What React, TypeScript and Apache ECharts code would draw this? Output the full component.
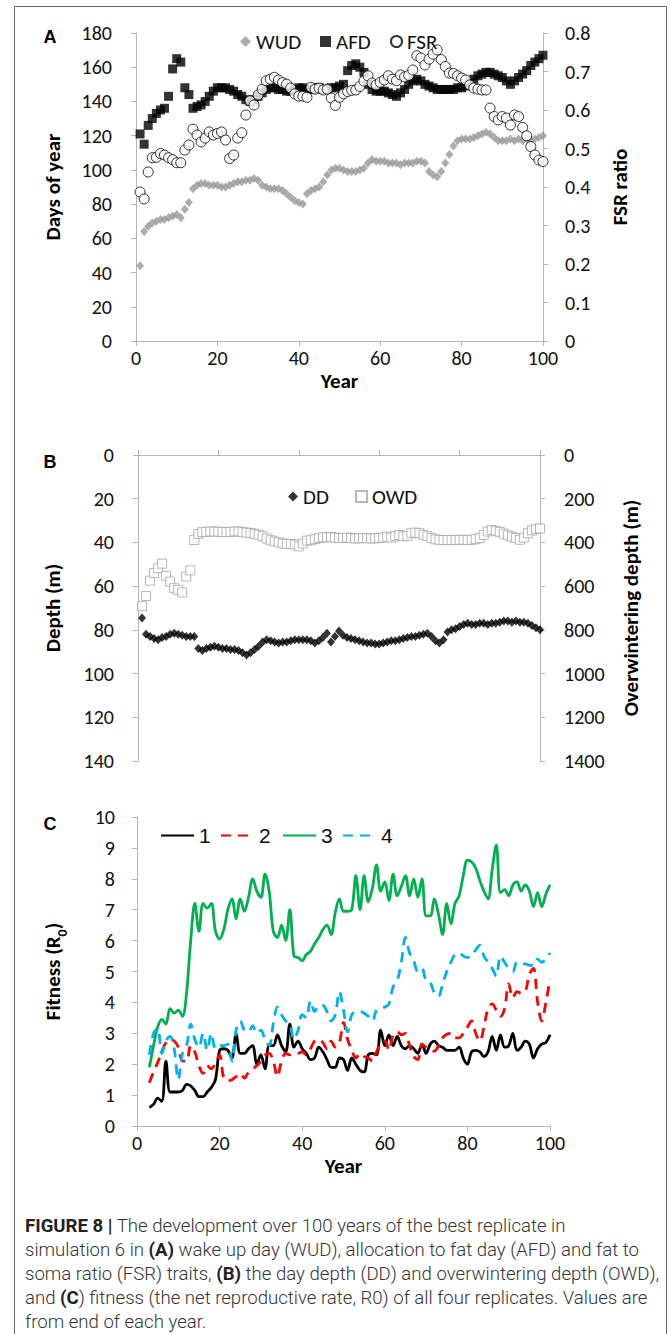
import React, { useEffect, useRef } from "react";
import * as echarts from "echarts";

// ---------- Panel A (years 1..100) ----------
const WUD = [44,64,67,69,70,71,71,72,73,74, 72,77,81,89,91,92,92,91,91,91, 90,90,91,92,93,93,94,94,95,94, 91,90,89,89,89,88,86,84,82,81, 80,86,88,89,90,93,97,100,101,101, 100,99,99,99,100,101,104,106,105,105, 105,104,104,104,103,104,104,104,105,105, 104,99,97,96,99,104,109,114,117,118, 118,118,119,120,121,122,121,119,117,117, 117,118,117,118,117,118,117,118,119,120];
const AFD = [121,115,126,130,133,135,136,143,159,165, 163,148,144,136,137,138,140,143,146,148, 148,148,147,146,144,143,141,140,141,143, 145,147,148,148,147,147,146,146,147,148, 148,147,147,148,148,147,147,148,148,149, 150,158,161,162,160,157,150,147,146,146, 146,145,144,143,145,147,150,152,153,152, 150,149,148,147,147,147,147,147,148,148, 149,151,153,155,156,157,157,156,155,154, 152,150,152,154,156,158,161,163,165,167];
const FSR = [0.387,0.369,0.439,0.476,0.477,0.487,0.483,0.476,0.471,0.463, 0.463,0.496,0.509,0.55,0.535,0.517,0.527,0.543,0.535,0.539, 0.543,0.522,0.474,0.483,0.527,0.541,0.587,0.624,0.613,0.639, 0.654,0.676,0.68,0.685,0.678,0.671,0.667,0.657,0.642,0.636, 0.636,0.633,0.659,0.654,0.657,0.652,0.654,0.631,0.612,0.633, 0.642,0.648,0.651,0.652,0.661,0.675,0.689,0.67,0.665,0.672, 0.678,0.689,0.68,0.676,0.691,0.686,0.69,0.704,0.741,0.735, 0.717,0.732,0.745,0.756,0.731,0.713,0.696,0.695,0.689,0.683, 0.678,0.665,0.657,0.654,0.652,0.652,0.605,0.583,0.574,0.583, 0.579,0.561,0.587,0.583,0.555,0.533,0.505,0.483,0.47,0.466];

// ---------- Panel B (years 1..100) ----------
const DD = [74.6,82,83,84,84.5,83.5,83,82,81.5,82, 82.5,83,83,83,88.5,89.5,88.5,88,87.5,88, 88.5,88.5,89,89,89.5,90.5,91.5,90.5,89,87.5, 85.5,84.5,85,85.5,86,85.5,85.5,85,84.5,84.5, 84.5,84.5,85,86,85,83.5,81.5,85.5,83,80.5, 82.5,83.5,84,84.5,85,85.5,86,86,86.5,86.5, 86,85.5,85,85,84.5,84,83.5,83,83,82.5, 82,81.5,83,85,86,84.5,81,80,79.5,78.5, 77.5,77,77.5,77.5,77,77,77.5,77,77,76.5, 76,76,76.5,76,76.5,76.5,77,78,79,80];
const OWD = [692,645,575,540,518,497,553,579,609,617, 629,556,528,389,361,353,352,350,350,351, 352,353,352,350,350,353,355,357,360,365, 372,382,390,396,400,405,407,407,410,418, 405,392,390,385,380,377,376,376,378,380, 380,378,380,382,381,380,381,382,381,380, 378,374,378,372,366,372,370,358,355,358, 365,372,380,386,388,389,389,389,389,388, 388,389,388,385,380,366,350,343,347,352, 360,368,374,380,388,378,358,345,338,336];

// ---------- Panel C (years 3..100) ----------
const FIT1 = [0.6,0.7,0.9,0.8,2.1,1.1,1.1,1.1,1.15,1.35, 1.3,1.15,0.95,0.95,1.1,1.25,1.5,2.45,2.5,2.45, 2.2,3.0,2.35,2.35,2.5,2.6,2.0,2.3,1.85,2.6, 2.6,2.95,2.6,2.4,3.3,2.55,2.75,2.5,2.35,2.15, 2.2,2.55,2.4,2.15,1.9,1.9,2.2,2.15,1.8,2.2, 2.0,1.8,1.75,2.3,2.35,2.3,3.1,2.6,2.95,2.6, 2.9,2.6,2.5,2.6,2.5,2.35,2.65,2.35,2.65,2.75, 2.6,2.55,2.45,2.45,2.45,2.55,2.2,2.0,2.4,2.45, 2.4,2.25,2.4,2.9,2.45,2.95,2.55,2.6,3.0,2.45, 2.55,2.75,2.65,2.2,2.5,2.65,2.7,2.95];
const FIT2 = [1.4,1.75,2.05,2.4,2.7,2.8,2.75,2.55,2.1,2.1, 2.6,2.4,1.95,1.7,1.95,1.85,2.05,2.3,1.55,1.47, 1.5,1.6,1.7,1.55,1.75,1.85,1.95,2.1,2.3,2.35, 2.1,1.6,2.1,2.35,2.3,2.35,2.35,2.4,2.3,2.5, 2.75,2.8,2.7,2.5,2.75,2.55,2.7,3.35,2.8,2.45, 2.2,2.35,2.25,2.2,2.1,2.4,2.7,2.75,2.45,2.95, 3.05,2.95,3.0,2.6,2.25,2.15,2.65,2.55,2.5,2.42, 2.6,2.85,2.97,3.0,2.85,2.85,3.0,3.2,3.4,3.0, 2.75,3.2,3.8,3.95,3.75,3.55,3.8,4.6,4.15,4.35, 4.3,4.35,4.9,5.1,4.0,3.4,4.0,4.75];
const FIT3 = [1.9,2.6,3.2,3.45,3.3,3.8,3.65,3.75,3.55,4.3, 6.0,7.2,6.3,7.2,7.05,7.2,6.3,6.05,6.35,7.0, 7.35,6.7,7.35,6.95,7.4,8.0,7.6,7.4,8.15,7.6, 6.3,6.1,6.5,6.0,7.0,5.5,5.45,5.35,5.55,5.65, 5.9,6.1,6.35,6.5,6.2,6.9,7.35,6.95,6.95,7.0, 8.1,7.0,8.1,7.25,7.7,8.45,7.6,7.9,7.3,8.15, 7.45,7.75,8.1,7.45,8.0,7.4,8.0,6.8,6.8,7.35, 6.85,6.2,7.2,6.55,7.2,7.45,8.1,8.6,8.55,8.35, 7.95,7.6,7.35,8.3,9.1,7.55,7.65,7.45,7.8,7.9, 7.6,7.8,7.6,7.1,7.55,7.1,7.5,7.8];
const FIT4 = [2.3,3.0,3.15,2.35,2.75,2.9,2.5,1.5,2.35,2.6, 3.3,2.8,2.55,3.0,2.45,3.0,2.5,2.6,2.6,2.65, 2.1,3.1,3.4,3.1,3.05,3.25,3.0,3.1,2.8,2.6, 3.3,3.85,3.6,3.4,3.3,2.8,3.1,3.6,3.5,4.05, 3.7,3.9,3.9,3.7,3.4,3.6,4.35,3.75,3.05,3.6, 3.7,3.7,3.65,3.55,3.4,3.75,3.8,3.85,3.95,4.5, 4.7,5.3,6.1,5.6,5.35,5.0,5.1,4.7,4.65,4.3, 4.2,4.6,5.0,5.3,5.55,5.6,5.5,5.45,5.5,5.7, 5.85,5.5,5.3,5.1,4.85,5.5,5.3,5.1,5.0,5.3, 5.25,5.25,5.2,5.2,5.4,5.3,5.4,5.6];

const FIRST_YEAR_AB = 1;
const FIRST_YEAR_C = 3;

const CAPTION_LINES = [
  "{b|FIGURE 8 |} The development over 100 years of the best replicate in",
  "simulation 6 in {b|(A)} wake up day (WUD), allocation to fat day (AFD) and fat to",
  "soma ratio (FSR) traits, {b|(B)} the day depth (DD) and overwintering depth (OWD),",
  "and {b|(C}) fitness (the net reproductive rate, R0) of all four replicates. Values are",
  "from end of each year.",
];

const FONT = "Carlito, Lato, 'Liberation Sans', sans-serif";
const CAP_FONT = "Roboto, 'Liberation Sans', sans-serif";
const AXIS_GREY = "#b5b5b5";

const toPairs = (vals: number[], first: number) => vals.map((v, i) => [first + i, v]);

const labelStyle = (margin: number) => ({
  color: "#111",
  fontSize: 20,
  fontFamily: FONT,
  margin,
  formatter: (v: number) => String(v),
});
const nameStyle = {
  color: "#000",
  fontSize: 21,
  fontWeight: "bold" as const,
  fontFamily: FONT,
};
const axLine = { show: true, onZero: false, lineStyle: { color: AXIS_GREY, width: 1 } };
const axTick = { show: true, inside: false, length: 5, lineStyle: { color: AXIS_GREY, width: 1 } };

function buildOption() {
  const xBase = (grid: number, extra: any) => ({
    type: "value",
    gridIndex: grid,
    min: 0,
    max: 100,
    interval: 20,
    axisLine: axLine,
    axisTick: axTick,
    splitLine: { show: false },
    nameMoveOverlap: false,
    ...extra,
  });
  const yBase = (grid: number, extra: any) => ({
    type: "value",
    gridIndex: grid,
    axisLine: axLine,
    axisTick: axTick,
    splitLine: { show: false },
    nameLocation: "middle",
    nameRotate: 90,
    nameTextStyle: nameStyle,
    nameMoveOverlap: false,
    ...extra,
  });

  const legendText = { fontSize: 21, fontFamily: FONT, color: "#111" };
  const legendC = { fontSize: 21, fontFamily: "'Liberation Sans', Arial, sans-serif", color: "#111" };
  const mkLegend = (name: string, left: number, top: number, w: number, h: number, ts: any, extra: any = {}) => ({
    data: [name],
    left,
    top,
    itemWidth: w,
    itemHeight: h,
    itemGap: 0,
    padding: 0,
    selectedMode: false,
    textStyle: ts,
    ...extra,
  });
  const hideSymbol = { itemStyle: { color: "rgba(0,0,0,0)", borderColor: "rgba(0,0,0,0)", borderWidth: 0, opacity: 0 } };

  const captionGraphics = CAPTION_LINES.map((line, i) => ({
    type: "text",
    x: 25,
    y: 1226 + i * 24,
    silent: true,
    style: {
      text: line,
      fill: "#333",
      fontSize: 18.6,
      fontFamily: CAP_FONT,
      fontWeight: 300,
      textVerticalAlign: "middle",
      textAlign: "left",
      rich: {
        b: {
          fill: "#222",
          fontSize: 18.6,
          fontFamily: CAP_FONT,
          fontWeight: "bold",
        },
      },
    },
  }));

  const panelLabel = (t: string, y: number) => ({
    type: "text",
    x: 50,
    y,
    silent: true,
    style: {
      text: t,
      fill: "#000",
      fontSize: 18,
      fontWeight: "bold",
      fontFamily: "'Liberation Sans', Arial, sans-serif",
      textAlign: "center",
      textVerticalAlign: "middle",
    },
  });

  return {
    animation: false,
    backgroundColor: "#fff",
    textStyle: { fontFamily: FONT },
    grid: [
      { left: 136, top: 33, width: 407, height: 308 },
      { left: 138, top: 455, width: 402, height: 306 },
      { left: 137, top: 817, width: 413, height: 309 },
    ],
    xAxis: [
      xBase(0, {
        position: "bottom",
        axisLabel: labelStyle(7),
        name: "Year",
        nameLocation: "middle",
        nameGap: 29,
        nameTextStyle: nameStyle,
      }),
      xBase(1, { position: "top", axisLabel: { show: false } }),
      xBase(2, {
        position: "bottom",
        axisLabel: labelStyle(7),
        name: "Year",
        nameLocation: "middle",
        nameGap: 29,
        nameTextStyle: nameStyle,
      }),
    ],
    yAxis: [
      yBase(0, { position: "left", min: 0, max: 180, interval: 20, axisLabel: labelStyle(24), name: "Days of year", nameGap: 73 }),
      yBase(0, { position: "right", min: 0, max: 0.8, interval: 0.1, axisLabel: labelStyle(22), name: "FSR ratio", nameGap: 66 }),
      yBase(1, { position: "left", inverse: true, min: 0, max: 140, interval: 20, axisLabel: labelStyle(24), name: "Depth (m)", nameGap: 75 }),
      yBase(1, { position: "right", inverse: true, min: 0, max: 1400, interval: 200, axisLabel: labelStyle(24), name: "Overwintering depth (m)", nameGap: 80 }),
      yBase(2, {
        position: "left",
        min: 0,
        max: 10,
        interval: 1,
        axisLabel: labelStyle(22),
        name: "Fitness (R{s|0})",
        nameGap: 74,
        nameTextStyle: {
          ...nameStyle,
          rich: { s: { fontSize: 14, fontWeight: "bold", fontFamily: FONT, color: "#000", verticalAlign: "bottom", padding: [0, 0, -6, 0] } },
        },
      }),
    ],
    legend: [
      mkLegend("WUD", 240, 31, 11, 11, legendText),
      mkLegend("AFD", 320, 31, 11, 11, legendText),
      mkLegend("FSR", 390, 31, 11, 11, legendText),
      mkLegend("DD", 288, 486, 10, 10, legendText),
      mkLegend("OWD", 355, 486, 11, 11, legendText),
      mkLegend("1", 160, 825, 33, 14, legendC, hideSymbol),
      mkLegend("2", 220, 825, 33, 14, legendC, hideSymbol),
      mkLegend("3", 282, 825, 33, 14, legendC, hideSymbol),
      mkLegend("4", 342, 825, 33, 14, legendC, hideSymbol),
    ],
    series: [
      { name: "WUD", type: "scatter", xAxisIndex: 0, yAxisIndex: 0, symbol: "diamond", symbolSize: [8, 9], itemStyle: { color: "#999999" }, data: toPairs(WUD, FIRST_YEAR_AB) },
      { name: "AFD", type: "scatter", xAxisIndex: 0, yAxisIndex: 0, symbol: "rect", symbolSize: 9, itemStyle: { color: "#000" }, data: toPairs(AFD, FIRST_YEAR_AB) },
      { name: "FSR", type: "scatter", xAxisIndex: 0, yAxisIndex: 1, symbol: "circle", symbolSize: 10, itemStyle: { color: "#fff", borderColor: "#000", borderWidth: 1 }, data: toPairs(FSR, FIRST_YEAR_AB) },
      { name: "DD", type: "scatter", xAxisIndex: 1, yAxisIndex: 2, symbol: "diamond", symbolSize: [8, 9], itemStyle: { color: "#000" }, data: toPairs(DD, FIRST_YEAR_AB) },
      { name: "OWD", type: "scatter", xAxisIndex: 1, yAxisIndex: 3, symbol: "rect", symbolSize: 9, itemStyle: { color: "#fff", borderColor: "#a6a6a6", borderWidth: 1 }, data: toPairs(OWD, FIRST_YEAR_AB) },
      { name: "1", type: "line", xAxisIndex: 2, yAxisIndex: 4, smooth: 0.35, symbol: "none", showSymbol: false, lineStyle: { color: "#000", width: 2.8 }, itemStyle: { color: "#000" }, data: toPairs(FIT1, FIRST_YEAR_C) },
      { name: "2", type: "line", xAxisIndex: 2, yAxisIndex: 4, smooth: 0.35, symbol: "none", showSymbol: false, lineStyle: { color: "#ff0000", width: 2.8, type: [10, 7] }, itemStyle: { color: "#ff0000" }, data: toPairs(FIT2, FIRST_YEAR_C) },
      { name: "3", type: "line", xAxisIndex: 2, yAxisIndex: 4, smooth: 0.35, symbol: "none", showSymbol: false, lineStyle: { color: "#00b050", width: 2.8 }, itemStyle: { color: "#00b050" }, data: toPairs(FIT3, FIRST_YEAR_C) },
      { name: "4", type: "line", xAxisIndex: 2, yAxisIndex: 4, smooth: 0.35, symbol: "none", showSymbol: false, lineStyle: { color: "#00b0f0", width: 2.8, type: [10, 7] }, itemStyle: { color: "#00b0f0" }, data: toPairs(FIT4, FIRST_YEAR_C) },
    ],
    graphic: [
      { type: "rect", silent: true, shape: { x: 14.5, y: 6.5, width: 652, height: 1340 }, style: { fill: "none", stroke: "#666", lineWidth: 1 } },
      panelLabel("A", 37),
      panelLabel("B", 462),
      panelLabel("C", 824),
      ...captionGraphics,
    ],
  };
}

export default function App() {
  const ref = useRef<HTMLDivElement>(null);
  useEffect(() => {
    if (!ref.current) return;
    const chart = echarts.init(ref.current, undefined, { renderer: "svg" });
    chart.setOption(buildOption() as any);
    return () => chart.dispose();
  }, []);
  return (
    <div
      ref={ref}
      style={{ position: "absolute", left: 0, top: 0, width: 670, height: 1334, background: "#fff" }}
    />
  );
}
